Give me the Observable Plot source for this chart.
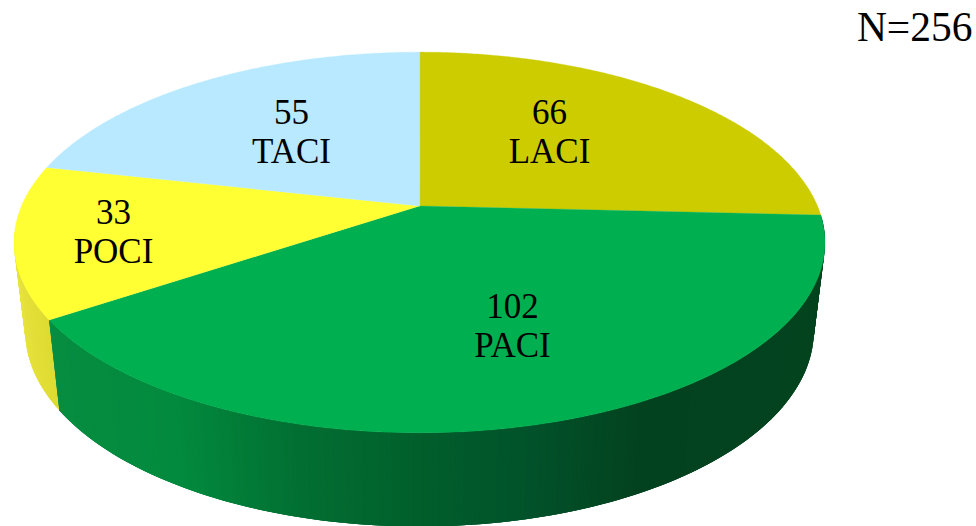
<!DOCTYPE html>
<html>
<head>
<meta charset="utf-8">
<style>html,body{margin:0;padding:0;background:#fff}svg{display:block}</style>
<script src="https://cdn.jsdelivr.net/npm/d3@7"></script>
<script src="https://cdn.jsdelivr.net/npm/@observablehq/plot@0.6"></script>
</head>
<body>
<div id="chart"></div>
<script>
// Chart values, clockwise from twelve o'clock
const categories = ["LACI", "PACI", "POCI", "TACI"];
const counts = [66, 102, 33, 55];
const topColors = ["#cccc00", "#00b050", "#ffff33", "#b9e9ff"];
const totalLabel = "N=256";

// Side-wall shading, sampled across the picture
const wallStopX = [50, 180, 300, 420, 530, 640, 830];
const wallStopColors = ["#078d40", "#028a3e", "#026f32", "#015f2b", "#01522a", "#03421f", "#03441f"];
const pociWallStopX = [14, 60];
const pociWallStopColors = ["#e8e440", "#dcd92f"];

// Label anchors
const labelX = [549, 512, 113, 291];
const labelY = [130.5, 324.5, 230.5, 130.5];

// Perspective model of the disc: top rim and bottom rim
const cx = 419, k = 0.1916;
const rimTop = {A: 398, a: 205.5, b: -144};
const rimBottom = {A: 387, a: 292.7, b: -132.5};
const project = (rim, deg, r = 1) => {
  const t = deg * Math.PI / 180, u = r * Math.sin(t), v = r * Math.cos(t), w = 1 + k * v;
  return {x: cx + rim.A * u / w, y: (rim.a + rim.b * v) / w};
};

const total = d3.sum(counts);
let cum = 0;
const slices = categories.map((name, i) => {
  const start = cum / total * 360;
  cum += counts[i];
  return {name, value: counts[i], color: topColors[i], start, end: cum / total * 360, i};
});

// Top face polygons
const topPoints = slices.flatMap(s => {
  const pts = [{...project(rimTop, 0, 0), z: s.name, color: s.color}];
  for (let d = s.start; d < s.end; d += 0.5) pts.push({...project(rimTop, d), z: s.name, color: s.color});
  pts.push({...project(rimTop, s.end), z: s.name, color: s.color});
  return pts;
});

// Side wall strips: each one overlaps the next so that no seam shows
const greenWall = d3.scaleLinear().domain(wallStopX).range(wallStopColors).clamp(true);
const yellowWall = d3.scaleLinear().domain(pociWallStopX).range(pociWallStopColors).clamp(true);
const wallPoints = [];
const addStrips = (s, from, to, scale) => {
  d3.range(from, to, 0.5).forEach(d => {
    const e = Math.min(d + 1.5, to);
    const a = project(rimTop, d), b = project(rimTop, e), c = project(rimBottom, e), f = project(rimBottom, d);
    const color = scale((a.x + f.x) / 2);
    [a, b, c, f].forEach(p => wallPoints.push({...p, z: `${s.name}${d}`, color}));
  });
};
addStrips(slices[2], slices[2].start, 262, yellowWall);
addStrips(slices[1], slices[1].start, slices[1].end, greenWall);

const labels = slices.map((s, i) => ({x: labelX[i], y: labelY[i], text: `${s.value}\n${s.name}`}));

const chart = Plot.plot({
  width: 976,
  height: 526,
  margin: 0,
  style: {background: "#fff"},
  x: {domain: [0, 976], range: [0, 976], axis: null},
  y: {domain: [0, 526], range: [0, 526], axis: null},
  color: {type: "identity"},
  marks: [
    Plot.line(wallPoints, {x: "x", y: "y", z: "z", fill: "color", stroke: "none", curve: "linear-closed"}),
    Plot.line(topPoints, {x: "x", y: "y", z: "z", fill: "color", stroke: "color", strokeWidth: 0.3, curve: "linear-closed"}),
    Plot.text(labels, {x: "x", y: "y", text: "text", fontFamily: "Liberation Serif", fontSize: 35, lineHeight: 1.12, textAnchor: "middle", lineAnchor: "middle", fill: "#000"}),
    Plot.text([totalLabel], {frameAnchor: "top-right", text: d => d, dx: -4, dy: 11, fontFamily: "Liberation Serif", fontSize: 41.5, fill: "#000"})
  ]
});
document.getElementById("chart").append(chart);
</script>
</body>
</html>
